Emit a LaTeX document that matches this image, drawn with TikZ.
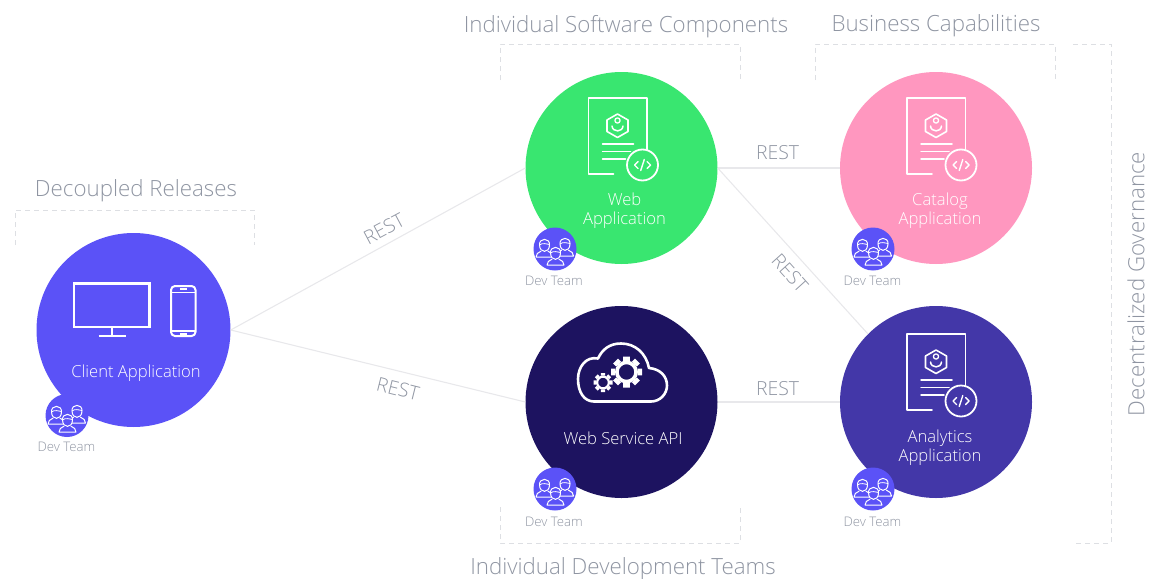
\documentclass[tikz,border=0pt]{standalone}
\usepackage{fontspec}
\setmainfont{Open Sans Light}
\usetikzlibrary{calc}
\definecolor{cgreen}{HTML}{39E670}
\definecolor{cpink}{HTML}{FF97BF}
\definecolor{cpurple}{HTML}{5B52F7}
\definecolor{cnavy}{HTML}{1D1360}
\definecolor{cviolet}{HTML}{4337A8}
\definecolor{ctext}{HTML}{8F95A2}
\definecolor{cline}{HTML}{E8E8EB}
\definecolor{cdash}{HTML}{DDDFE3}
\tikzset{
  x=1pt,y=-1pt,
  app/.style={circle,minimum size=192pt,inner sep=0pt,draw=none},
  teamdot/.style={circle,minimum size=43pt,inner sep=0pt,fill=cpurple},
  conn/.style={draw=cline,line width=1.1pt},
  bracket/.style={draw=cdash,line width=.8pt,dash pattern=on 5pt off 4pt},
  head/.style={text=ctext,font=\fontsize{22.3}{26}\selectfont},
  rest/.style={text=ctext,font=\fontsize{19.4}{22}\selectfont},
  apptext/.style={text=white,align=center,font=\fontsize{16.6}{18.7}\selectfont},
  teamtext/.style={text=ctext,font=\fontsize{13.2}{15}\selectfont},
  ico/.style={draw=white,line width=1.8pt,line join=round,line cap=round},
  thin ico/.style={draw=white,line width=1pt,line join=round,line cap=round},
}
\newcommand{\docicon}[3]{%
\begin{scope}[shift={(#1,#2)}]
  \draw[ico] (25,76) -- (0,76) -- (0,0) -- (58.5,0) -- (58.5,60);
  \draw[thin ico,line width=1.6pt] (29,16)--(39.5,22)--(39.5,33.5)--(29,39.5)--(18.5,33.5)--(18.5,22)--cycle;
  \draw[thin ico,line width=1.3pt] (29,22.5) circle (2.6);
  \draw[thin ico,line width=1.5pt] (23.5,28) .. controls (24,34.5) and (34,34.5) .. (34.5,28);
  \draw[ico,line width=1.5pt] (14,46)--(45,46) (14,53.5)--(42,53.5) (14,61)--(37,61);
  \draw[ico,fill=#3] (54,67) circle (15.5);
  \draw[ico,line width=1.4pt] (49.5,63.5)--(46,67)--(49.5,70.5) (58.5,63.5)--(62,67)--(58.5,70.5) (55.8,61.5)--(52.2,72.5);
\end{scope}}
% head centre (#1,#2)
\newcommand{\personshape}[2]{%
  \draw[thin ico,fill=cpurple] (#1-3.5,#2+5.2) .. controls (#1-6.5,#2+6.5) and (#1-8.5,#2+8) .. (#1-8.5,#2+11)
     -- (#1+8.5,#2+11) .. controls (#1+8.5,#2+8) and (#1+6.5,#2+6.5) .. (#1+3.5,#2+5.2);
  \draw[thin ico,fill=cpurple] (#1-5,#2-1) .. controls (#1-5.6,#2-8.5) and (#1+5.6,#2-8.5) .. (#1+5,#2-1)
     .. controls (#1+4.8,#2+7.5) and (#1-4.8,#2+7.5) .. cycle;
  \draw[thin ico,line width=.8pt] (#1-5,#2-1) .. controls (#1-2,#2-3.5) and (#1+2,#2-2) .. (#1+5,#2-1.5);
}
\newcommand{\teamicon}[2]{%
\begin{scope}[shift={(#1,#2)}]
  \personshape{-10.5}{-3}
  \personshape{10}{-4}
  \personshape{0.5}{5}
\end{scope}}
\newcommand{\gearshape}[4]{%
  \fill[white] \foreach \a in {0,45,...,315} {
     [rotate around={\a:(#1,#2)}] (#1-#3*0.22,#2-#3*0.72) rectangle (#1+#3*0.22,#2-#3)};
  \draw[white,line width=#4] (#1,#2) circle (#3*0.62);
}
\begin{document}
\begin{tikzpicture}
\useasboundingbox (0,0) rectangle (1158,578);

% brackets
\draw[bracket] (15,245)--(15,210)--(254,210)--(254,245);
\draw[bracket] (500,80)--(500,44)--(740,44)--(740,80);
\draw[bracket] (815,80)--(815,44)--(1055,44)--(1055,80);
\draw[bracket] (500,507)--(500,543)--(740,543)--(740,507);
\draw[bracket] (1073,44)--(1111,44)--(1111,543)--(1073,543);

% application circles
\node[app,fill=cpurple,minimum size=194pt] (client) at (133.5,330) {};
\node[app,fill=cgreen] (web) at (621.5,168) {};
\node[app,fill=cpink] (catalog) at (936,168) {};
\node[app,fill=cnavy] (api) at (621.5,402) {};
\node[app,fill=cviolet] (analytics) at (936,402) {};

% connectors
\draw[conn] (client.east) -- (web.west);
\draw[conn] (client.east) -- (api.west);
\draw[conn] (web.east) -- (catalog.west);
\draw[conn] (web.east) -- (analytics.135);
\draw[conn] (api.east) -- (analytics.west);

% connector labels
\node[rest,rotate=28] (r1) at (384,229) {REST};
\node[rest,rotate=-14] (r2) at (398,389) {REST};
\node[rest] (r3) at (777.5,153) {REST};
\node[rest,rotate=-48] (r4) at (790,273) {REST};
\node[rest] (r5) at (777.5,389) {REST};

% headings
\node[head] (h1) at (136,190.5) {Decoupled Releases};
\node[head] (h2) at (626,26.5) {Individual Software Components};
\node[head] (h3) at (936,25.5) {Business Capabilities};
\node[head] (h4) at (623,568.6) {Individual Development Teams};
\node[head,rotate=90] (h5) at (1136,284) {Decentralized Governance};

% client icon
\draw[ico,line width=2.4pt,line join=miter] (74,283.5) rectangle (149.5,327);
\draw[ico,line cap=butt,line width=2.4pt] (112,327)--(112,336);
\draw[ico,line cap=butt,line width=2.4pt] (98.5,336)--(125.5,336);
\draw[ico,line width=2pt,rounded corners=4pt] (171,286) rectangle (195.5,336);
\draw[white,line width=1.4pt] (171,292.5)--(195.5,292.5) (171,331)--(195.5,331);
\draw[white,line width=1.4pt] (180,289)--(187,289) (180,334)--(187,334);

% document icons
\docicon{588.5}{98}{cgreen}
\docicon{907}{98}{cpink}
\docicon{907}{334}{cviolet}

% cloud icon
\draw[ico,line width=2.6pt] (594,401.5) -- (651,401.5)
  .. controls (660,401.5) and (667,394) .. (667,385.5)
  .. controls (667,376) and (660,369) .. (649,368)
  .. controls (646,353) and (635,343.5) .. (621,343.5)
  .. controls (609,343.5) and (602,350) .. (598,358.5)
  .. controls (586,356) and (578,367) .. (578,379)
  .. controls (578,392) and (584,401.5) .. (594,401.5) -- cycle;
\gearshape{626.5}{372}{15.5}{3.6pt}
\gearshape{603}{382.5}{9.5}{2.2pt}

% application labels
\node[apptext] (lclient) at (136,373) {Client Application};
\node[apptext] (lweb) at (624.5,210.5) {Web\\Application};
\node[apptext] (lcatalog) at (940,210.5) {Catalog\\Application};
\node[apptext] (lapi) at (623,438) {Web Service API};
\node[apptext] (lanalytics) at (940,447.5) {Analytics\\Application};

% teams
\node[teamdot] (t1) at (67,415.5) {};
\node[teamdot] (t2) at (555,249) {};
\node[teamdot] (t3) at (873,249) {};
\node[teamdot] (t4) at (555,489) {};
\node[teamdot] (t5) at (873,489) {};
\teamicon{67}{416}
\teamicon{555}{249}
\teamicon{873}{249}
\teamicon{555}{489}
\teamicon{873}{489}
\node[teamtext] (d1) at (66.5,447) {Dev Team};
\node[teamtext] (d2) at (554,281) {Dev Team};
\node[teamtext] (d3) at (872.5,281) {Dev Team};
\node[teamtext] (d4) at (554,521.5) {Dev Team};
\node[teamtext] (d5) at (872.5,521.5) {Dev Team};
\end{tikzpicture}
\end{document}
